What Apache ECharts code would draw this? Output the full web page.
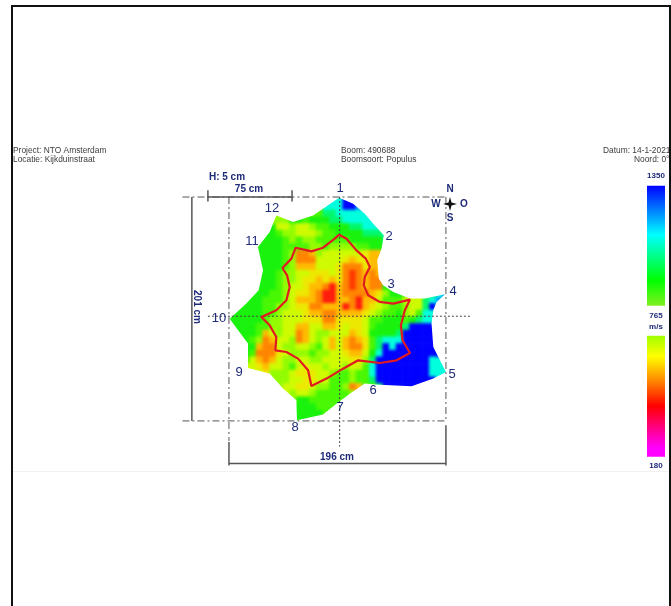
<!DOCTYPE html>
<html><head><meta charset="utf-8">
<style>html,body{margin:0;padding:0;background:#fff}#c{width:671px;height:606px;filter:blur(.35px)}#c canvas:first-child{filter:blur(1.7px)}</style>
<script src="https://cdn.jsdelivr.net/npm/echarts@6/dist/echarts.min.js"></script>
</head><body><div id="c"></div>
<script>
// Velocity (m/s) per cell, row by row from the top; each row begins at column rowStart[i]
const rowStart=[16,15,13,7,6,6,5,4,5,5,5,5,5,5,4,3,2,1,0,1,2,2,3,3,3,3,6,7,8,9,10,10,10,10];
const velocityRows=[
[1080,1350,1350],
[1080,1080,1350,1350,1200],
[820,980,980,1080,1080,1080,1080,1080],
[760,760,880,880,820,880,880,880,980,980,1080,1080,1080,1080,1080],
[880,710,710,760,710,710,760,820,820,880,880,880,980,980,1080,1080,1080],
[880,820,760,760,710,710,710,760,820,820,880,880,880,880,980,980,980,1080],
[880,880,880,820,760,820,760,760,820,820,820,820,820,880,880,880,880,880,980],
[880,880,880,880,820,820,820,820,760,760,820,760,760,760,760,820,820,880,880],
[880,880,880,820,760,530,530,590,760,710,710,710,710,710,710,660,590,590],
[880,880,880,820,760,530,530,530,710,710,710,710,660,590,660,660,590,590],
[880,880,880,820,760,590,590,590,710,710,710,660,530,530,530,660,590,590],
[880,880,820,760,760,710,710,660,660,660,710,660,530,470,530,590,530,590],
[880,880,820,760,760,710,660,660,590,660,590,660,530,470,530,590,530,530],
[880,880,820,760,710,710,660,590,590,530,440,590,530,470,530,590,530,530,880],
[880,880,820,820,760,710,660,660,590,530,440,440,590,530,530,530,530,590,660,760,880],
[880,880,820,820,820,760,710,590,590,590,530,440,440,590,590,530,440,590,590,710,820,820,820,710,710,710,980,1080,1200],
[880,880,880,820,820,760,760,710,660,660,530,530,590,590,590,440,530,440,590,660,710,760,820,820,760,710,710,980,1350],
[880,880,880,880,820,820,760,710,710,710,660,590,590,530,530,590,590,590,590,660,710,760,820,820,880,760,710,820,1080,1080],
[880,880,880,880,880,820,760,760,710,710,710,660,660,660,530,530,660,660,660,660,710,820,820,880,880,880,820,880,980,1080,1080],
[880,880,880,820,820,760,760,710,710,590,590,710,710,590,590,660,710,660,660,710,820,880,880,880,880,980,1350,1350,1350,1350],
[880,880,820,590,710,760,710,710,530,590,710,760,760,710,710,710,590,660,710,880,880,880,880,980,1350,1350,1350,1350,1350],
[880,820,760,530,590,710,710,760,530,590,710,760,710,590,710,590,530,590,660,820,980,1080,1080,1080,1350,1350,1350,1350,1350],
[880,590,530,530,710,760,760,710,710,760,820,710,590,710,590,530,530,660,820,980,1350,1080,1350,1350,1350,1350,1350,1350],
[820,530,530,530,660,710,760,760,760,820,760,760,710,710,660,590,590,710,880,1080,1350,1350,1350,1350,1350,1350,1350,1350],
[710,590,530,590,710,760,760,710,710,760,760,710,710,710,710,660,660,760,980,1350,1350,1350,1350,1350,1350,1350,1350,1080,1080],
[710,660,590,710,710,760,820,710,660,710,710,760,710,710,760,710,710,820,1080,1350,1350,1350,1350,1350,1350,1350,1350,1080,1080],
[760,760,760,710,660,660,660,710,710,760,820,820,760,820,820,1080,1350,1350,1350,1350,1350,1350,1350,1350,1080],
[760,760,710,710,660,660,710,710,820,820,820,760,820,820,980,1350,1350,1350,1350,1350,1350,1350,1350],
[710,710,660,660,710,760,760,820,820,760,530,590],
[760,710,710,760,820,820,820,820,820],
[880,880,820,820,820,820],
[880,880,880,820,820],
[880,880,880,880],
[880]
];
// Colour scale: 180..1350 m/s in equal steps
const velocityColors=['#ff00ff','#ff00c0','#ff0060','#ff2000','#ff9000','#ffdd00','#c8ff00','#50f800','#08f010','#00f878','#00ffdd','#00bfff','#0060ff','#0000ff'];
// Damage contour, [cm across, cm down]
const contour=[[99.5,33.8],[106.2,37.4],[115.2,47.9],[123.6,55.3],[127.3,62.8],[122.7,71.8],[121.8,79.3],[125.8,88.2],[136.3,94.2],[148.4,95.7],[163.5,92.1],[158.9,101.7],[155.3,115.2],[156.8,128.6],[163.5,140],[151.4,146.6],[136.3,149],[116.7,146.6],[103.1,154.1],[88.1,163],[74.5,169.6],[71.5,155.5],[62.4,145.1],[51.9,139.1],[41.9,137.6],[42.8,125.6],[36.8,115.2],[29.3,107.7],[42.8,101.7],[51.9,92.7],[54.9,80.8],[52.5,70.3],[48.3,63.7],[56.4,55.3],[60.3,45.5],[74.5,48.8],[85,45.5],[95.6,37.4],[99.5,33.8]];
// Trunk outline, [cm across, cm down], clockwise from sensor 1
const trunkOutline=[[99.5,0.6],[112.2,6],[122.7,15],[130.3,23.9],[139.9,34.4],[137.8,46.4],[133.9,56.8],[135.4,73.3],[139.3,79.3],[148.4,85.3],[163.5,91.2],[177,91.2],[195.1,87.3],[187.6,94.2],[184.6,101.7],[183,113.7],[184.6,134.6],[189.1,143.6],[196,157],[184.6,163],[165,169.9],[131.8,168.4],[122.7,167.5],[109.2,176.5],[97.1,185.5],[85,195.3],[61.5,200.4],[60.9,182.5],[48.9,172],[36.8,158.5],[17.2,153.5],[17.2,131.6],[0.6,109.2],[15.7,95.7],[26.8,83.8],[30.8,65.8],[26.2,44.9],[36.8,31.4],[42.8,16.5],[57.9,22.4],[76,16.5],[89.6,7.5]];
// Guides in cm
const frameLines=[[[-42,0],[196,0],null],[[-42,201],[196,201],null],[[0,0],[0,219],null],[[196,0],[196,201],null]];
const centerLines=[[[100,0],[100,224],null],[[-19,107],[219,107],null]];
const dimensionLines=[[[-33.5,0],[-33.5,201],null],[[0,239.3],[196,239.3],null],[[0,220],[0,241],null],[[196,205],[196,241],null],[[-19,-6],[-19,4],null],[[57,-6],[57,4],null],[[-19,0],[57,0],null]];

// Cells, with each edge value carried one cell outward so the colour reaches the trunk outline
const cols=33,rowsN=34,cellMap={};
velocityRows.forEach((r,i)=>r.forEach((v,k)=>{cellMap[(rowStart[i]+k)+','+i]=v;}));
const heat=[];
Object.keys(cellMap).forEach(key=>{const [x,y]=key.split(',').map(Number);heat.push([x,y,cellMap[key]]);});
const padded={};
heat.forEach(([x,y,v])=>{for(let dx=-1;dx<=1;dx++)for(let dy=-1;dy<=1;dy++){const nx=x+dx,ny=y+dy,k=nx+','+ny;if(nx>=0&&ny>=0&&nx<cols&&ny<rowsN&&!(k in cellMap)&&!(k in padded))padded[k]=v;}});
Object.keys(padded).forEach(k=>{const [x,y]=k.split(',').map(Number);heat.push([x,y,padded[k]]);});

const colNames=Array.from({length:cols},(_,i)=>String(i));
const rowNames=Array.from({length:rowsN},(_,i)=>String(i));
const flat=a=>a.flat().map(p=>p===null?[null,null]:p);
const navy='#1d2a78',F='"Liberation Sans",Arial,sans-serif';
const t=(text,x,y,o={})=>({type:'text',zlevel:1,x,y,z:20,rotation:o.rot||0,style:{text,fill:o.c||navy,font:(o.b?'bold ':'')+(o.s||13)+'px '+F,textAlign:o.a||'center',textVerticalAlign:'middle'}});
const bar=(top,h,stops)=>({type:'rect',zlevel:1,z:10,shape:{x:647,y:top,width:18,height:h},style:{fill:{type:'linear',x:0,y:0,x2:0,y2:1,colorStops:stops.map(s=>({offset:s[0],color:s[1]}))}}});
const grey='#3c3c3c';
const graphic=[
 {type:'rect',zlevel:1,z:30,shape:{x:11,y:5,width:2,height:601},style:{fill:'#111'}},
 {type:'rect',zlevel:1,z:30,shape:{x:11,y:5,width:660,height:2},style:{fill:'#111'}},
 {type:'rect',zlevel:1,z:30,shape:{x:669,y:5,width:2,height:601},style:{fill:'#111'}},
 {type:'rect',zlevel:1,z:1,shape:{x:13,y:471,width:656,height:1},style:{fill:'#f1f1f1'}},
 t('Project: NTO Amsterdam',13,150.5,{c:grey,s:8.4,a:'left'}),
 t('Locatie: Kijkduinstraat',13,160,{c:grey,s:8.4,a:'left'}),
 t('Boom: 490688',341,150.5,{c:grey,s:8.4,a:'left'}),
 t('Boomsoort: Populus',341,160,{c:grey,s:8.4,a:'left'}),
 t('Datum: 14-1-2021',603,150.5,{c:grey,s:8.4,a:'left'}),
 t('Noord: 0°',634,160,{c:grey,s:8.4,a:'left'}),
 bar(185.7,120,[[0,'#0000ff'],[.41,'#00ffff'],[.79,'#00ff00'],[1,'#80f020']]),
 bar(335.7,121,[[0,'#a0ff00'],[.17,'#ffff00'],[.36,'#ff9000'],[.58,'#ff0000'],[.93,'#ff00ff'],[1,'#ff00ff']]),
 t('1350',656,176,{b:1,s:8}),t('765',656,316,{b:1,s:8}),t('m/s',656,327,{b:1,s:8}),t('180',656,466,{b:1,s:8}),
 t('1',340,188),t('2',389,236),t('3',391,284),t('4',453,291),t('5',452,374),t('6',373,390),t('7',340,407),t('8',295,427),t('9',239,372),t('10',219,318),t('11',252,241),t('12',272,208),
 t('H: 5 cm',227,177,{b:1,s:10}),t('75 cm',249,189,{b:1,s:10}),t('196 cm',337,457,{b:1,s:10}),
 t('201 cm',197,307,{b:1,s:10,rot:-Math.PI/2}),
 t('N',450,189,{b:1,s:10}),t('W',436,204,{b:1,s:10}),t('O',464,204,{b:1,s:10}),t('S',450,218,{b:1,s:10}),
 {type:'polygon',zlevel:1,z:20,shape:{points:[[450,197],[451.5,202.5],[457,204],[451.5,205.5],[450,211],[448.5,205.5],[443,204],[448.5,202.5]]},style:{fill:'#111'}}
];
const lineSeries=(data,color,width,type,z)=>({type:'line',zlevel:1,xAxisIndex:1,yAxisIndex:1,data:flat(data),showSymbol:false,silent:true,animation:false,z,connectNulls:false,lineStyle:{color,width,type}});
// White surround: everything outside the trunk outline, within the cell grid
const surround=[[-14,-14],[214,-14],[214,222],[-14,222],[-14,-14]];
const ringBack=[...trunkOutline,trunkOutline[0]].reverse();

const chart=echarts.init(document.getElementById('c'),null,{renderer:'canvas'});
chart.setOption({
 animation:false,backgroundColor:'#fff',graphic,
 grid:[{left:229.3,top:196.7,width:220,height:226.7},{left:173.6,top:163.6,width:332.1,height:311.9}],
 xAxis:[{type:'category',gridIndex:0,data:colNames,show:false},{type:'value',gridIndex:1,min:-50,max:250,show:false}],
 yAxis:[{type:'category',gridIndex:0,data:rowNames,inverse:true,show:false},{type:'value',gridIndex:1,min:-30,max:250,inverse:true,show:false}],
 visualMap:{show:false,min:180,max:1350,dimension:2,seriesIndex:0,inRange:{color:velocityColors}},
 series:[
  {type:'heatmap',data:heat,xAxisIndex:0,yAxisIndex:0,silent:true,z:2,progressive:0,emphasis:{disabled:true}},
  {type:'custom',zlevel:1,coordinateSystem:'cartesian2d',xAxisIndex:1,yAxisIndex:1,silent:true,z:3,clip:false,data:[[0,0]],
   renderItem:(p,api)=>({type:'polygon',shape:{points:[...surround,...ringBack,surround[0]].map(q=>api.coord(q))},style:{fill:'#fff'}})},
  lineSeries(frameLines,'#555',1,[7,3,2,3],4),
  lineSeries(centerLines,'#444',1,[2,2],4),
  lineSeries(dimensionLines,'#555',1.5,'solid',4),
  {type:'line',zlevel:1,xAxisIndex:1,yAxisIndex:1,data:contour,showSymbol:false,silent:true,z:6,lineStyle:{color:'#e01a20',width:2.2}}
 ]
});
</script></body></html>
